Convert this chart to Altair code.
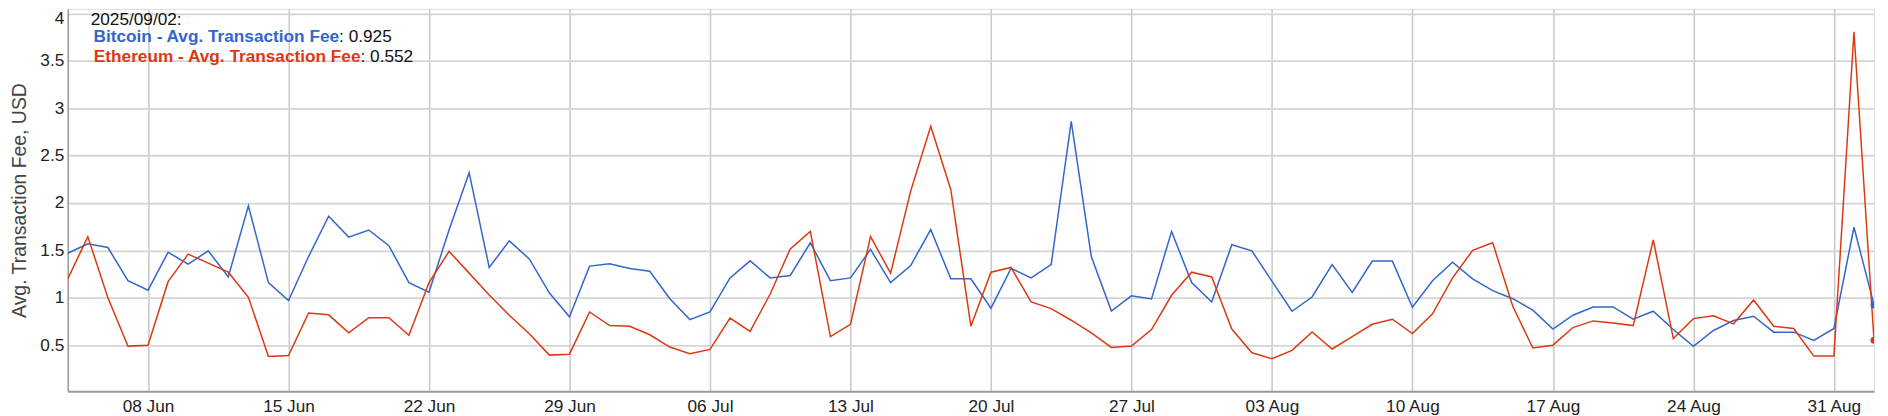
import altair as alt
import pandas as pd

start_date = "2025-06-04"
n_days = 91

btc = [1.47, 1.57, 1.53, 1.18, 1.08, 1.48, 1.355, 1.495, 1.22, 1.97, 1.16, 0.97, 1.435, 1.86, 1.64, 1.715, 1.55,
       1.16, 1.06, 1.715, 2.32, 1.32, 1.60, 1.41, 1.05, 0.80, 1.334, 1.36, 1.31, 1.28, 0.99, 0.77, 0.85, 1.21, 1.39, 1.21,
       1.235, 1.58, 1.18, 1.21, 1.51, 1.16, 1.34, 1.72, 1.20, 1.20, 0.89, 1.31, 1.21, 1.35, 2.86, 1.435, 0.86, 1.02,
       0.987, 1.70, 1.16, 0.956, 1.56, 1.495, 1.175, 0.858, 1.008, 1.35, 1.057, 1.387, 1.387, 0.90, 1.18, 1.376, 1.20, 1.075, 0.99, 0.87,
       0.67, 0.816, 0.903, 0.903, 0.774, 0.858, 0.665, 0.487, 0.655, 0.76, 0.805, 0.637, 0.637, 0.55, 0.676, 1.744, 0.925]

eth = [1.20, 1.645, 1.0, 0.49, 0.50, 1.17, 1.46, 1.365, 1.27, 1.005, 0.38, 0.39, 0.84, 0.82, 0.63, 0.79, 0.79,
       0.605, 1.16, 1.49, 1.26, 1.03, 0.815, 0.62, 0.395, 0.405, 0.85, 0.707, 0.70, 0.61, 0.48, 0.41, 0.455, 0.785, 0.645, 1.04,
       1.516, 1.70, 0.59, 0.72, 1.645, 1.26, 2.125, 2.81, 2.14, 0.70, 1.27, 1.32, 0.956, 0.886, 0.763, 0.63, 0.476, 0.49,
       0.665, 1.026, 1.27, 1.22, 0.67, 0.42, 0.357, 0.445, 0.64, 0.46, 0.59, 0.72, 0.774, 0.623, 0.83, 1.21, 1.50, 1.58, 0.91, 0.47,
       0.50, 0.686, 0.756, 0.735, 0.707, 1.61, 0.57, 0.78, 0.81, 0.725, 0.977, 0.70, 0.676, 0.385, 0.385, 3.806, 0.552]

series_names = ["Bitcoin - Avg. Transaction Fee", "Ethereum - Avg. Transaction Fee"]
series_colors = ["#3366cc", "#dc3912"]
y_ticks = [0.5, 1, 1.5, 2, 2.5, 3, 3.5, 4]
x_tick_dates = ["2025-06-08", "2025-06-15", "2025-06-22", "2025-06-29", "2025-07-06", "2025-07-13",
                "2025-07-20", "2025-07-27", "2025-08-03", "2025-08-10", "2025-08-17", "2025-08-24", "2025-08-31"]
tooltip_date = "2025/09/02:"
last_btc = "0.925"
last_eth = "0.552"

dates = pd.date_range(start_date, periods=n_days, freq="D").strftime("%Y-%m-%dT00:00:00")
df = pd.DataFrame({
    "date": list(dates) * 2,
    "value": btc + eth,
    "series": [series_names[0]] * n_days + [series_names[1]] * n_days,
})
last_df = df[df["date"] == dates[-1]]

FONT = "Liberation Sans"
FS = 17.3

def dt(s):
    y, m, d = [int(p) for p in s.split("-")]
    return alt.DateTime(year=y, month=m, date=d)

x_enc = alt.X(
    "date:T",
    scale=alt.Scale(domain=[dt(start_date), dt("2025-09-02")]),
    axis=alt.Axis(
        values=[dt(s) for s in x_tick_dates],
        format="%d %b",
        title=None,
        ticks=False,
        labelPadding=6,
        labelFontSize=FS,
        labelColor="#222222",
        labelFont=FONT,
        grid=True,
        gridColor="#c8c8c8",
        gridWidth=1.5,
        domainColor="#999999",
        domainWidth=2,
        labelFlush=False,
    ),
)
y_enc = alt.Y(
    "value:Q",
    scale=alt.Scale(domain=[0.014, 4.048], nice=False, zero=False),
    axis=alt.Axis(
        values=y_ticks,
        format="~g",
        title="Avg. Transaction Fee, USD",
        titleFont=FONT,
        titleFontSize=19.5,
        titleFontWeight="normal",
        titleColor="#444444",
        titleAngle=-90,
        titleX=-42,
        titleY=192,
        titleAlign="center",
        titleBaseline="alphabetic",
        ticks=False,
        labelPadding=4,
        labelFontSize=FS,
        labelFont=FONT,
        labelColor="#222222",
        labelFlush=6,
        labelFlushOffset=4,
        grid=True,
        gridColor="#d4d4d4",
        gridWidth=1.8,
        domainColor="#999999",
        domainWidth=1.5,
    ),
)
color_enc = alt.Color("series:N", scale=alt.Scale(domain=series_names, range=series_colors), legend=None)

lines = alt.Chart(df).mark_line(strokeWidth=1.5, clip=True).encode(
    x=x_enc, y=y_enc, color=color_enc, order=alt.Order("date:T")
)
dots = alt.Chart(last_df).mark_point(filled=True, size=50, opacity=1, clip=True).encode(
    x="date:T", y="value:Q", color=color_enc
)

def label(text, x, y, color="#111111", weight="normal", align="left"):
    return alt.Chart(pd.DataFrame({"t": [text]})).mark_text(
        align=align, baseline="alphabetic", font=FONT, fontSize=FS, fontWeight=weight, color=color
    ).encode(text="t:N", x=alt.value(x), y=alt.value(y))

texts = [
    label(tooltip_date, 23, 16),
    label(series_names[0], 272.5, 33, series_colors[0], "bold", "right"),
    label(": " + last_btc, 272.5, 33),
    label(series_names[1], 294, 53.5, series_colors[1], "bold", "right"),
    label(": " + last_eth, 294, 53.5),
]

chart = alt.layer(lines, dots, *texts).properties(
    width=1814, height=384,
    padding={"left": 60, "top": 0, "right": 6, "bottom": 24},
    autosize="none",
).configure_view(stroke=None).configure(background="white")

chart.save("out.html", embed_options={"renderer": "svg", "actions": False})
